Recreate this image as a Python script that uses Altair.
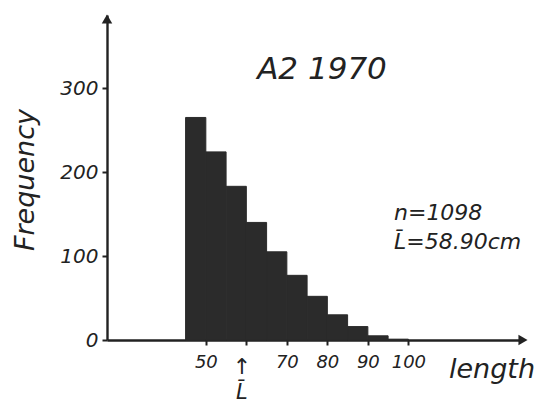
import altair as alt
import pandas as pd

bin_start = [45, 50, 55, 60, 65, 70, 75, 80, 85, 90, 95]
bin_end = [50, 55, 60, 65, 70, 75, 80, 85, 90, 95, 100]
frequency = [265, 224, 183, 140, 105, 77, 52, 30, 16, 5, 1]
x_ticks = [50, 60, 70, 80, 90, 100]
y_ticks = [0, 100, 200, 300]
mean_length = 58.90
n_total = 1098

FONT = "DejaVu Sans"
INK = "#222222"

df = pd.DataFrame({"start": bin_start, "end": bin_end, "freq": frequency})

xs = alt.Scale(domain=[25.6, 128.3], nice=False, zero=False)
ys = alt.Scale(domain=[0, 387], nice=False)

x_axis = alt.Axis(values=x_ticks, title=None, grid=False,
                  labelExpr="datum.value == 60 ? '' : datum.label",
                  domainColor=INK, domainWidth=2.4, tickColor=INK, tickWidth=2,
                  tickSize=5, labelPadding=8, labelFont=FONT, labelFontStyle="italic",
                  labelFontSize=18, labelColor=INK)
y_axis = alt.Axis(values=y_ticks, title=None, grid=False,
                  domainColor=INK, domainWidth=2.4, tickColor=INK, tickWidth=2,
                  tickSize=5, labelPadding=4, labelFont=FONT, labelFontStyle="italic",
                  labelFontSize=20, labelColor=INK)

bars = alt.Chart(df).mark_rect(color="#2b2b2b", stroke="#2b2b2b", strokeWidth=1).encode(
    x=alt.X("start:Q", scale=xs, axis=x_axis),
    x2="end:Q",
    y=alt.Y("freq:Q", scale=ys, axis=y_axis),
    y2=alt.datum(0),
)

arrows = alt.Chart(pd.DataFrame({"s": ["triangle-up", "triangle-right"],
                                 "px": [0, 416], "py": [4, 325]})).mark_point(
    filled=True, color=INK, size=110, opacity=1).encode(
    x=alt.X("px:Q", scale=None), y=alt.Y("py:Q", scale=None),
    shape=alt.Shape("s:N", scale=None, legend=None))

txt = dict(font=FONT, fontStyle="italic", color=INK)

title = alt.Chart(pd.DataFrame({"t": ["A2 1970"]})).mark_text(
    fontSize=31, align="center", baseline="middle", **txt).encode(
    text="t:N", x=alt.value(215), y=alt.value(55))

stats = alt.Chart(pd.DataFrame({"t": [f"n={n_total}", f"L\u0304={mean_length:.2f}cm"],
                                "py": [198, 227]})).mark_text(
    fontSize=22, align="left", baseline="middle", **txt).encode(
    text="t:N", x=alt.value(287), y=alt.Y("py:Q", scale=None))

xlab = alt.Chart(pd.DataFrame({"t": ["length"]})).mark_text(
    fontSize=27, align="left", baseline="middle", **txt).encode(
    text="t:N", x=alt.value(342), y=alt.value(355))

ylab = alt.Chart(pd.DataFrame({"t": ["Frequency"]})).mark_text(
    fontSize=27, align="center", baseline="middle", angle=270, **txt).encode(
    text="t:N", x=alt.value(-81), y=alt.value(165))

mean_df = pd.DataFrame({"m": [mean_length], "a": ["\u2191"], "l": ["L\u0304"]})
mean_arrow = alt.Chart(mean_df).mark_text(
    fontSize=22, align="center", baseline="middle", **txt).encode(
    text="a:N", x=alt.X("m:Q", scale=xs), y=alt.value(352))
mean_label = alt.Chart(mean_df).mark_text(
    fontSize=21, align="center", baseline="middle", **txt).encode(
    text="l:N", x=alt.X("m:Q", scale=xs), y=alt.value(378))

chart = alt.layer(bars, arrows, title, stats, xlab, ylab, mean_arrow, mean_label).properties(
    width=416, height=325,
    background="white",
    autosize=alt.AutoSizeParams(type="none"),
    padding={"left": 99, "top": 7, "right": 22, "bottom": 65},
).configure_view(strokeWidth=0, stroke="transparent")

chart.save("out.html", embed_options={"renderer": "svg", "actions": False})
